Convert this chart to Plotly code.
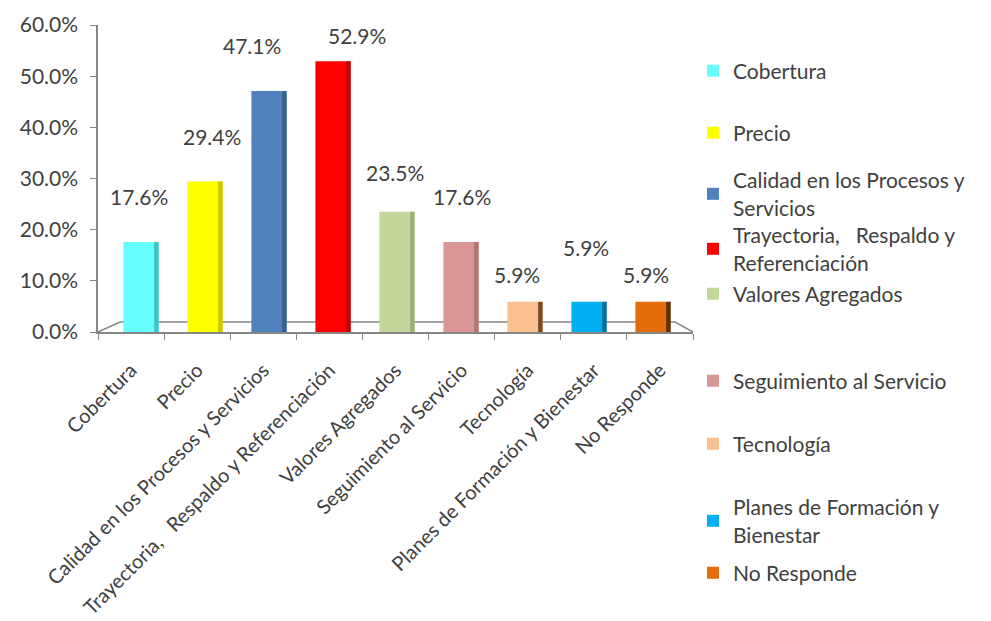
import plotly.graph_objects as go

# Survey results: reasons for choosing the provider (share of respondents)
categories = [
    "Cobertura",
    "Precio",
    "Calidad en los Procesos y Servicios",
    "Trayectoria,\u00a0\u00a0 Respaldo y Referenciación",
    "Valores Agregados",
    "Seguimiento al Servicio",
    "Tecnología",
    "Planes de Formación y Bienestar",
    "No Responde",
]
legend_names = [
    "Cobertura",
    "Precio",
    "Calidad en los Procesos y<br>Servicios",
    "Trayectoria,\u00a0\u00a0 Respaldo y<br>Referenciación",
    "Valores Agregados",
    "Seguimiento al Servicio",
    "Tecnología",
    "Planes de Formación y<br>Bienestar",
    "No Responde",
]
values = [0.176, 0.294, 0.471, 0.529, 0.235, 0.176, 0.059, 0.059, 0.059]
colors = ["#66FFFF", "#FFFF00", "#4F81BD", "#FF0000", "#C3D69B",
          "#D99694", "#FAC090", "#00B0F0", "#E46C0A"]
side_colors = ["#3FC4C4", "#C8C800", "#3A6190", "#C00000", "#9DAE7C",
               "#B07674", "#7A4A20", "#0A6F96", "#5E2E04"]

# label offsets above each bar top (pixels) and horizontal nudges
label_dy = [45, 45, 46, 26, 39, 45, 27, 54, 27]
label_dx = [-2, 7, -17, 24, -2, 1, -8, -3, -7]
# vertical centre of each legend entry (pixels from top of page)
legend_py = [71, 133, 194, 249, 294, 381, 444, 521, 573]

TEXT = "#404040"
AXIS = "#868686"
FONT = "Lato"
BAR_W = 0.55
SIDE_W = 0.07

L, R, T, B = 98, 298, 25, 289
W, H = 991, 621
plot_h = H - T - B

fig = go.Figure()

# invisible carrier so the front category axis gets its labels
fig.add_trace(go.Scatter(
    x=categories, y=values, mode="markers", marker=dict(opacity=0),
    showlegend=False, hoverinfo="skip",
))

for i, (cat, name, v, c, sc) in enumerate(zip(categories, legend_names, values, colors, side_colors)):
    legend_key = "legend" if i == 0 else f"legend{i + 1}"
    fig.add_trace(go.Bar(
        x=[cat], y=[v], name=name, width=BAR_W,
        marker=dict(color=c, line=dict(width=0)),
        xaxis="x2", legend=legend_key, showlegend=True,
    ))
    # darker right-hand face giving the column some depth
    fig.add_trace(go.Bar(
        x=[cat], y=[v], width=SIDE_W, offset=BAR_W / 2 - SIDE_W,
        marker=dict(color=sc, line=dict(width=0)),
        xaxis="x2", showlegend=False, hoverinfo="skip",
    ))

annotations = []
for cat, v, dy, dx in zip(categories, values, label_dy, label_dx):
    annotations.append(dict(
        x=cat, y=v, xref="x2", yref="y", text=f"{v * 100:.1f}%",
        showarrow=False, yshift=dy, xshift=dx, yanchor="middle",
        font=dict(family=FONT, size=21, color=TEXT),
    ))

legends = {}
for i, py in enumerate(legend_py):
    key = "legend" if i == 0 else f"legend{i + 1}"
    legends[key] = dict(
        x=1.0, xanchor="left", y=(H - B - py) / plot_h, yanchor="middle",
        font=dict(family=FONT, size=21, color=TEXT),
        bgcolor="rgba(0,0,0,0)", borderwidth=0, itemwidth=30,
    )

fig.update_layout(
    width=W, height=H,
    margin=dict(l=L, r=R, t=T, b=B, autoexpand=False),
    paper_bgcolor="white", plot_bgcolor="white",
    barmode="overlay",
    font=dict(family=FONT, color=TEXT),
    xaxis=dict(
        type="category", categoryarray=categories, range=[-0.5, 8.5],
        showline=True, linecolor=AXIS, linewidth=1.5,
        ticks="outside", tickson="boundaries", ticklen=6, tickcolor=AXIS,
        tickangle=-45, ticklabelstandoff=17,
        tickfont=dict(family=FONT, size=20, color=TEXT),
        showgrid=False, zeroline=False,
    ),
    xaxis2=dict(
        type="category", categoryarray=categories, overlaying="x",
        range=[-0.672, 8.625], visible=False,
    ),
    yaxis=dict(
        range=[0, 0.6], dtick=0.1, tickformat=".1%",
        showline=True, linecolor=AXIS, linewidth=1.5,
        ticks="outside", ticklen=6, tickcolor=AXIS, ticklabelstandoff=8,
        tickfont=dict(family=FONT, size=21, color=TEXT),
        showgrid=False, zeroline=False,
    ),
    annotations=annotations,
    shapes=[dict(
        type="path", xref="paper", yref="y",
        xsizemode="pixel", ysizemode="pixel", xanchor=0, yanchor=0,
        path="M0,0 L22,10 L577,10 L595,0",
        line=dict(color=AXIS, width=1.5), layer="below",
    )],
    **legends,
)

fig.write_html("out.html")
